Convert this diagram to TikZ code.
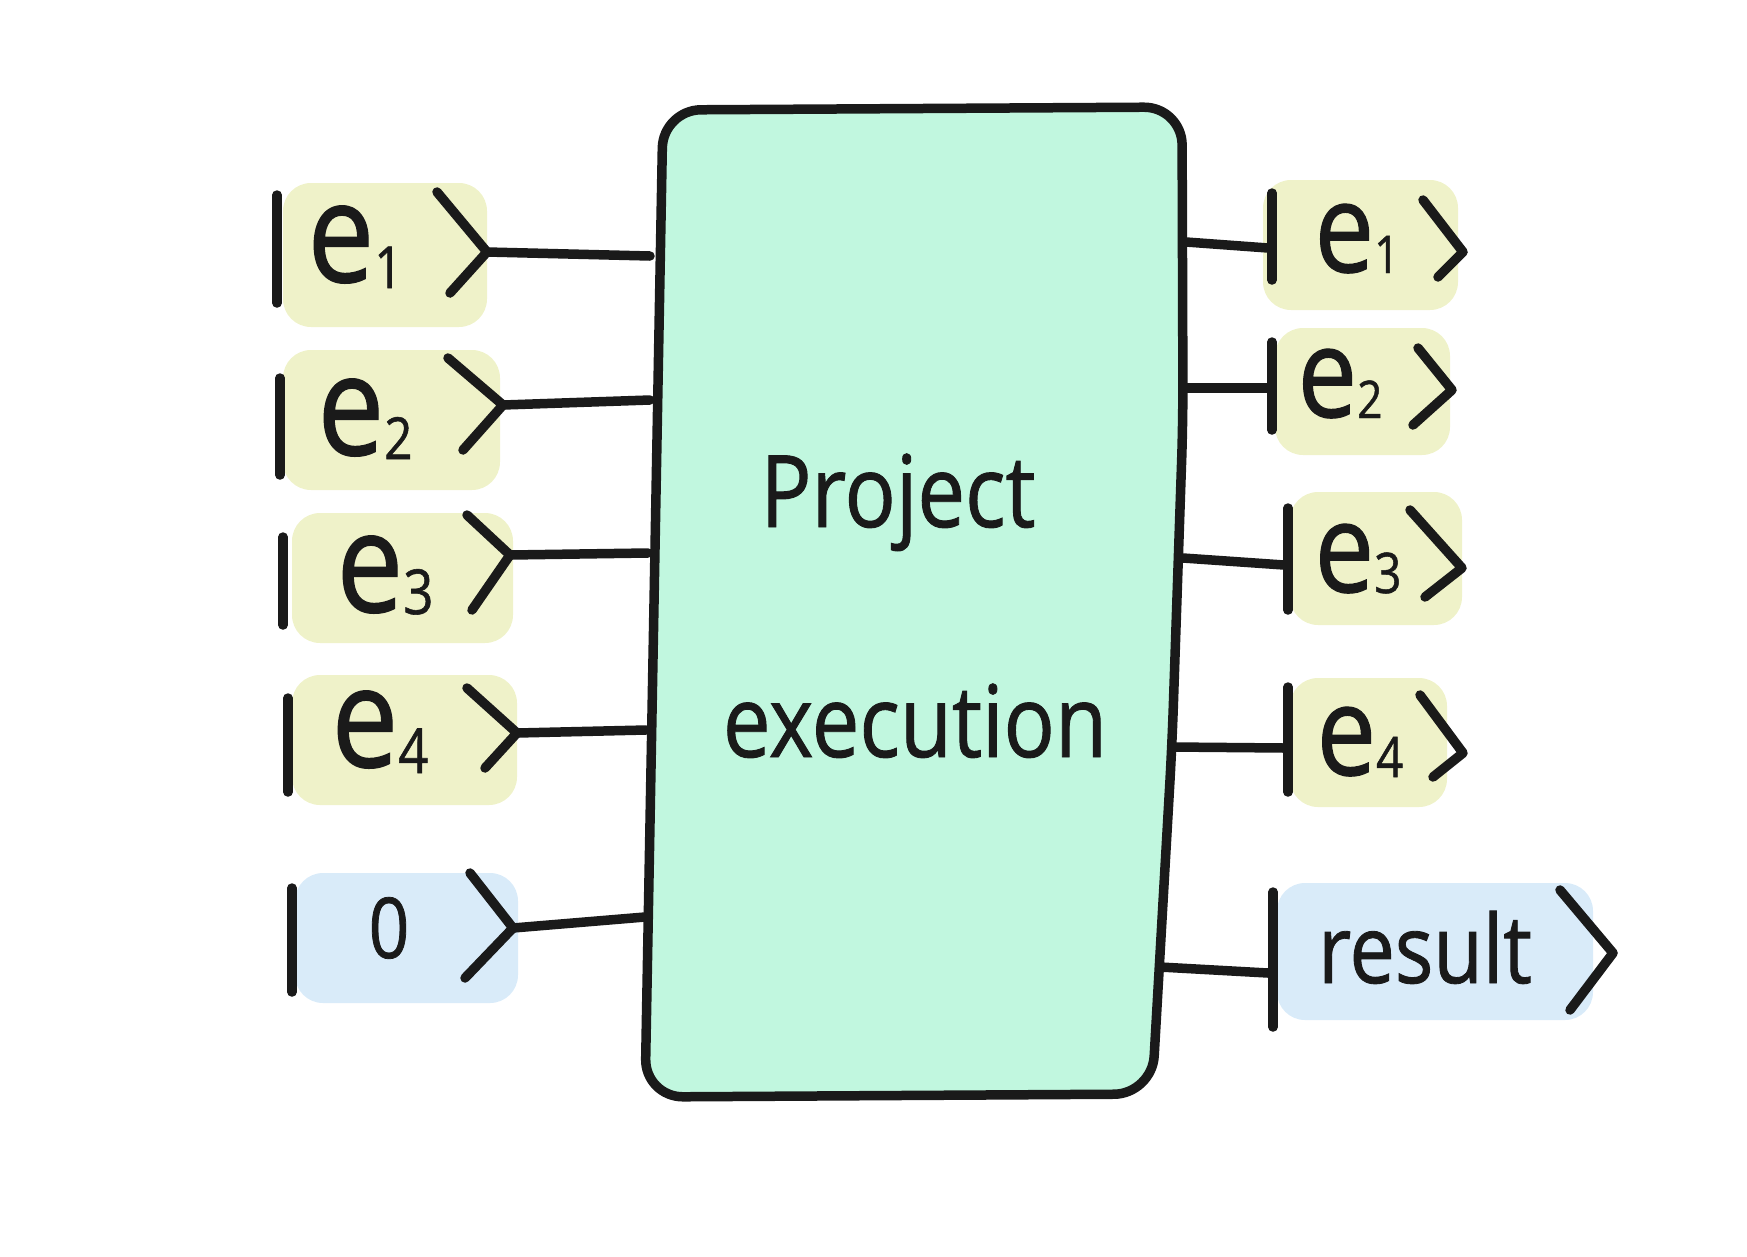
\documentclass[tikz,border=0pt]{standalone}
\usepackage{fontspec}
\newfontfamily\hand[FakeStretch=0.85,FakeBold=0.9]{Open Sans}
\definecolor{boxfill}{HTML}{C1F7DF}
\definecolor{hly}{HTML}{EFF2C9}
\definecolor{hlb}{HTML}{D9EBF9}
\definecolor{ink}{HTML}{1A1A1A}
\newcommand\eklab[4]{{\fontsize{#1}{#1}\selectfont e}{\fontsize{#2}{#2}\selectfont\raisebox{-#3pt}{#4}}}
\tikzset{
  pen/.style={draw=ink, line width=9.5pt, line cap=round, line join=round},
  hlyel/.style={fill=hly, rounded corners=28pt},
  hlblu/.style={fill=hlb, rounded corners=28pt},
  lab/.style={anchor=base, inner sep=0pt, text=ink, font=\hand},
}
\begin{document}
\begin{tikzpicture}[x=1pt,y=-1pt]
\useasboundingbox (0,0) rectangle (1747,1256);
% main box
\draw[pen, fill=boxfill, rounded corners=38pt] (663,110) -- (1182,107) -- (1183,420) -- (1172,745) -- (1152,1094) -- (645,1097) -- cycle;
\node[lab, font=\hand\fontsize{100}{100}\selectfont] (proj) at (898,527) {Project};
\node[lab, font=\hand\fontsize{100}{100}\selectfont] (exec) at (915,757) {execution};
% box edge coordinates
\coordinate (bl1) at (650,256);
\coordinate (bl2) at (650,400);
\coordinate (bl3) at (648,553);
\coordinate (bl4) at (646,730);
\coordinate (bl0) at (645,917);
\coordinate (br1) at (1186,242);
\coordinate (br2) at (1186,388);
\coordinate (br3) at (1183,558);
\coordinate (br4) at (1172,747);
\coordinate (brr) at (1160,967);
% highlights
\fill[hlyel] (283,183) rectangle (487,327);
\fill[hlyel] (283,350) rectangle (500,490);
\fill[hlyel] (292,513) rectangle (513,643);
\fill[hlyel] (292,675) rectangle (517,805);
\fill[hlblu] (295,873) rectangle (518,1003);
\fill[hlyel] (1263,180) rectangle (1458,310);
\fill[hlyel] (1275,328) rectangle (1450,455);
\fill[hlyel] (1290,492) rectangle (1462,625);
\fill[hlyel] (1290,678) rectangle (1447,807);
\fill[hlblu] (1277,883) rectangle (1593,1020);
% left kets
\node[lab] (l1) at (355,282) {\eklab{140}{58}{6}{1}};
\node[lab] (l2) at (365,455) {\eklab{140}{58}{4}{2}};
\node[lab] (l3) at (385,612) {\eklab{140}{62}{2}{3}};
\node[lab] (l4) at (380,767) {\eklab{140}{62}{6}{4}};
\node[lab, font=\hand\fontsize{84}{84}\selectfont] (l0) at (389,958) {0};
\draw[pen] (277,195) -- (277,303);
\draw[pen] (280,378) -- (280,475);
\draw[pen] (283,537) -- (283,625);
\draw[pen] (288,698) -- (288,792);
\draw[pen] (292,888) -- (292,992);
\coordinate (t1) at (487,252);
\coordinate (t2) at (503,405);
\coordinate (t3) at (510,555);
\coordinate (t4) at (517,733);
\coordinate (t0) at (513,928);
\draw[pen] (437,192) -- (t1) -- (450,293);
\draw[pen] (448,358) -- (t2) -- (463,450);
\draw[pen] (467,515) -- (t3) -- (472,610);
\draw[pen] (467,688) -- (t4) -- (485,768);
\draw[pen] (470,873) -- (t0) -- (465,978);
\draw[pen] (t1) -- (bl1);
\draw[pen] (t2) -- (bl2);
\draw[pen] (t3) -- (bl3);
\draw[pen] (t4) -- (bl4);
\draw[pen] (t0) -- (bl0);
% right kets
\node[lab] (r1) at (1357,272) {\eklab{125}{52}{1}{1}};
\node[lab] (r2) at (1340,417) {\eklab{125}{52}{1}{2}};
\node[lab] (r3) at (1358,592) {\eklab{125}{56}{1}{3}};
\node[lab] (r4) at (1360,775) {\eklab{125}{56}{2}{4}};
\node[lab, font=\hand\fontsize{95}{95}\selectfont] (rr) at (1425,983) {result};
\coordinate (s1) at (1268,248);
\coordinate (s2) at (1268,388);
\coordinate (s3) at (1284,565);
\coordinate (s4) at (1284,748);
\coordinate (sr) at (1268,973);
\draw[pen] (br1) -- (s1);
\draw[pen] (br2) -- (s2);
\draw[pen] (br3) -- (s3);
\draw[pen] (br4) -- (s4);
\draw[pen] (brr) -- (sr);
\draw[pen] (1272,193) -- (1272,280);
\draw[pen] (1272,342) -- (1272,430);
\draw[pen] (1288,508) -- (1288,610);
\draw[pen] (1288,687) -- (1288,792);
\draw[pen] (1273,892) -- (1273,1027);
\draw[pen] (1423,200) -- (1463,252) -- (1438,277);
\draw[pen] (1418,348) -- (1452,390) -- (1413,425);
\draw[pen] (1410,510) -- (1462,568) -- (1425,597);
\draw[pen] (1420,695) -- (1463,753) -- (1433,777);
\draw[pen] (1560,890) -- (1613,953) -- (1570,1010);
\end{tikzpicture}
\end{document}
